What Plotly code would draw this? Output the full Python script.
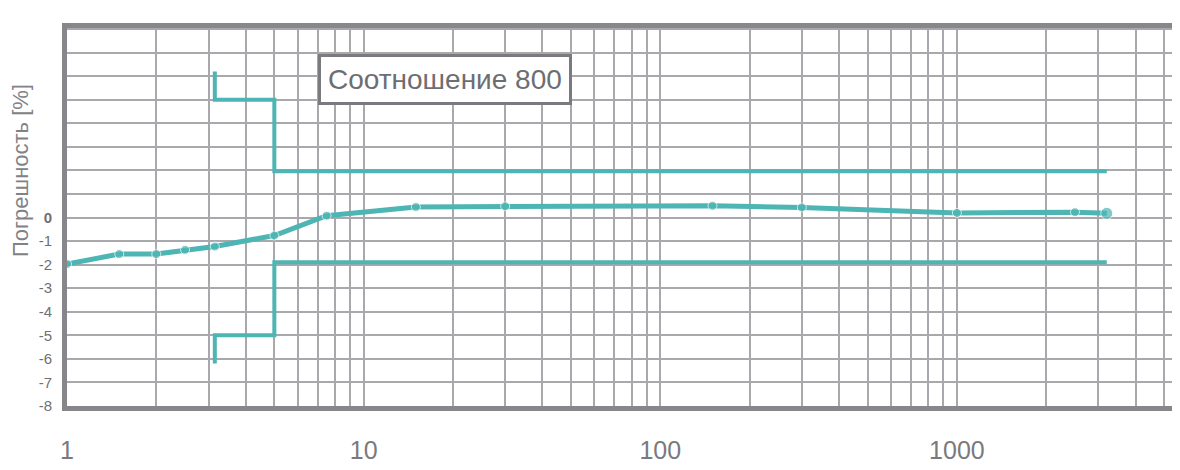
import plotly.graph_objects as go

# measured error curve
current = [1, 1.5, 2, 2.5, 3.15, 5, 7.5, 15, 30, 150, 300, 1000, 2500, 3200]
error = [-1.97, -1.55, -1.55, -1.37, -1.23, -0.76, 0.08, 0.45, 0.48, 0.5, 0.43, 0.2, 0.23, 0.18]

# limit steps
limit_x = [3.15, 3.15, 5, 5, 3200]
upper_y = [6.2, 5, 5, 1.97, 1.97]
lower_y = [-6.2, -5, -5, -1.9, -1.9]

y_ticks = list(range(-8, 9))
y_labels = [str(v) if v < 0 else ("<b>0</b>" if v == 0 else "") for v in y_ticks]
x_ticks = [m * 10 ** d for d in range(4) for m in range(1, 10)]
x_labels = [str(v) if v in (1, 10, 100, 1000) else "" for v in x_ticks]

teal = "#4db5b3"
grid = "#a9a9ad"
frame = "#87878b"
font = "Arial, Liberation Sans, sans-serif"

fig = go.Figure()
fig.add_trace(go.Scatter(x=limit_x, y=upper_y, mode="lines",
                         line=dict(color=teal, width=4), hoverinfo="skip"))
fig.add_trace(go.Scatter(x=limit_x, y=lower_y, mode="lines",
                         line=dict(color=teal, width=4), hoverinfo="skip"))
fig.add_trace(go.Scatter(x=current, y=error, mode="lines+markers",
                         line=dict(color=teal, width=5),
                         marker=dict(color=teal, size=[9] * (len(current) - 1) + [12])))

fig.add_annotation(x=1.273, y=5.86, xref="x", yref="y", text="Соотношение 800",
                   showarrow=False, font=dict(family=font, size=28, color="#6d6e72"),
                   bgcolor="white", bordercolor="#7b7b7f", borderwidth=3, borderpad=7)
fig.add_annotation(x=-0.042, y=0.624, xref="paper", yref="paper", text="Погрешность [%]",
                   textangle=-90, showarrow=False, xanchor="center", yanchor="middle",
                   font=dict(family=font, size=22, color="#818285"))

# page body has an 8px margin, so margins are shifted to compensate
fig.update_layout(
    width=1180, height=470,
    margin=dict(l=59, r=0, t=20, b=72),
    plot_bgcolor="white", paper_bgcolor="white",
    showlegend=False,
    font=dict(family=font, color="#6f7074"),
)
fig.update_xaxes(type="log", range=[0, 3.779], tickvals=x_ticks, ticktext=x_labels,
                 showgrid=True, gridcolor=grid, gridwidth=2,
                 showline=True, linecolor=frame, linewidth=5, mirror=True,
                 ticks="", ticklabelstandoff=18, automargin=False,
                 tickfont=dict(family=font, size=25, color="#7a7a7e"), zeroline=False)
fig.update_yaxes(range=[-8, 8.05], tickvals=y_ticks, ticktext=y_labels,
                 showgrid=True, gridcolor=grid, gridwidth=2,
                 showline=True, linecolor=frame, linewidth=5, mirror=False,
                 ticks="", ticklabelstandoff=7, automargin=False,
                 tickfont=dict(family=font, size=15, color="#6f7074"), zeroline=False)

fig.write_html("out.html")
